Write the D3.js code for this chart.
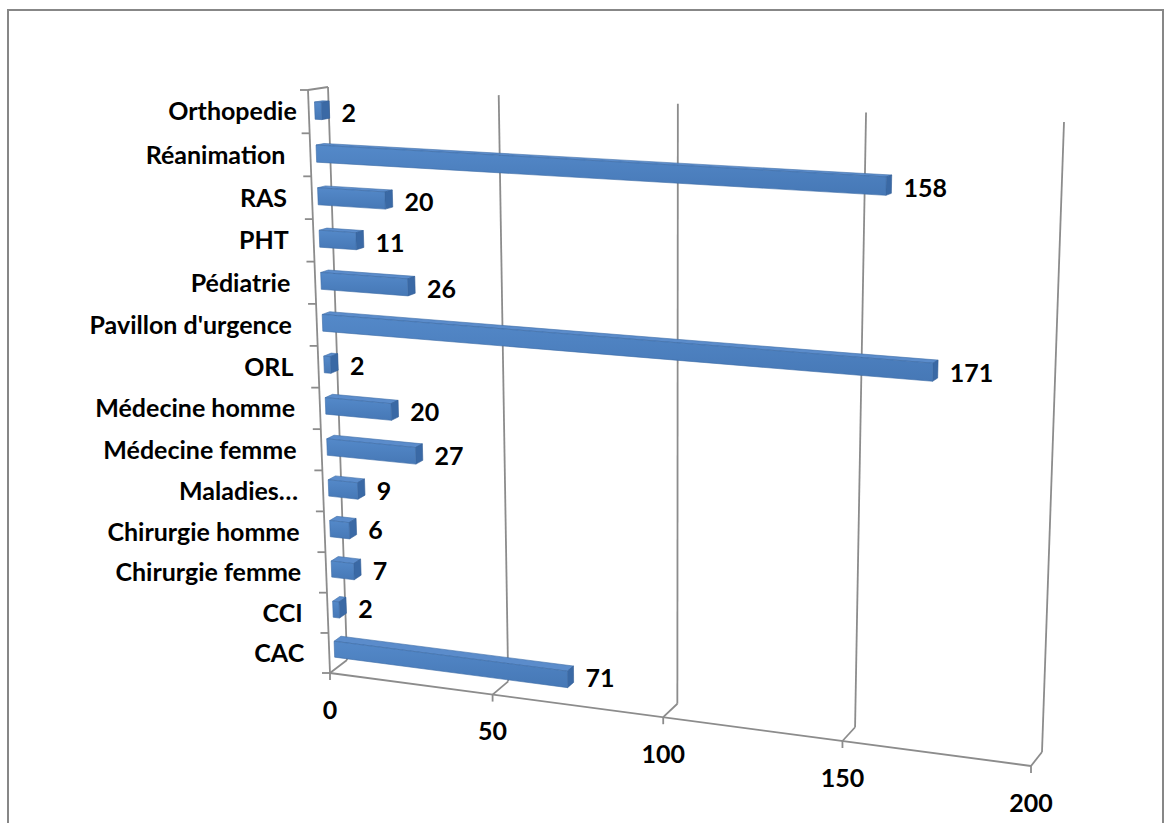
<!DOCTYPE html>
<html>
<head>
<meta charset="utf-8">
<script src="https://cdn.jsdelivr.net/npm/d3@7"></script>
<style>
  html, body { margin: 0; padding: 0; background: #fff; }
  svg { display: block; }
  text { font-family: Lato, "Open Sans", sans-serif; font-weight: 700; fill: #000; }
</style>
</head>
<body>
<svg id="chart" width="1173" height="823"></svg>
<script>
// Admissions by department
const categories = ["Orthopedie", "Réanimation", "RAS", "PHT", "Pédiatrie", "Pavillon d'urgence", "ORL",
  "Médecine homme", "Médecine femme", "Maladies…", "Chirurgie homme", "Chirurgie femme", "CCI", "CAC"];
const counts = [2, 158, 20, 11, 26, 171, 2, 20, 27, 9, 6, 7, 2, 71];
const valueTicks = [0, 50, 100, 150, 200];

const svg = d3.select("#chart");
const fontSize = 25;

// Screen corners of the front plane (z = 0) and the back wall (z = 1)
const frontPlane = { tl: [308, 90], tr: [1052, 126], bl: [330, 673], br: [1031, 766] };
const backPlane  = { tl: [328, 87], tr: [1064, 122], bl: [347, 660], br: [1042, 752] };

const x = d3.scaleLinear().domain([0, 200]).range([0, 1]);
const y = d3.scaleBand().domain(categories).range([0, 1]).paddingInner(0.6).paddingOuter(0.3);

// one-dimensional perspective foreshortening
const persp = k => t => t * k / (1 + (k - 1) * t);
const warpU = persp(0.906);
const warpW = persp(1.043);

const lerp = (a, b, t) => [a[0] + (b[0] - a[0]) * t, a[1] + (b[1] - a[1]) * t];
function onPlane(q, u, w) {
  return lerp(lerp(q.tl, q.tr, u), lerp(q.bl, q.br, u), w);
}
// value, vertical position (0 top .. 1 bottom, linear band space), depth
function project(v, w, z) {
  const u = warpU(x(v)), ww = warpW(w);
  return lerp(onPlane(frontPlane, u, ww), onPlane(backPlane, u, ww), z);
}

// outer frame
svg.append("rect")
  .attr("x", 8).attr("y", 10).attr("width", 1155).attr("height", 830)
  .attr("fill", "none").attr("stroke", "#878787").attr("stroke-width", 2);

const grid = svg.append("g")
  .attr("stroke", "#8c8c8c").attr("stroke-width", 1.8).attr("fill", "none");
const seg = (a, b) => grid.append("line")
  .attr("x1", a[0]).attr("y1", a[1]).attr("x2", b[0]).attr("y2", b[1]);

// back wall gridlines and floor depth lines
valueTicks.forEach(t => {
  seg(project(t, 0, 1), project(t, 1, 1));
  seg(project(t, 1, 0), project(t, 1, 1));
  const p = project(t, 1, 0);
  seg(p, [p[0], p[1] + 7]);
});
// side wall top edge
seg(project(0, 0, 0), project(0, 0, 1));
// category axis line and ticks
seg(project(0, 0, 0), project(0, 1, 0));
d3.range(categories.length + 1).forEach(i => {
  const p = project(0, i * y.step(), 0);
  seg(p, [p[0] - 8, p[1]]);
});
// value axis line
seg(project(0, 1, 0), project(200, 1, 0));

// bar fills
const defs = svg.append("defs");
const grad = defs.append("linearGradient").attr("id", "barFront")
  .attr("x1", 0).attr("y1", 0).attr("x2", 0).attr("y2", 1);
grad.append("stop").attr("offset", 0).attr("stop-color", "#5489c9");
grad.append("stop").attr("offset", 1).attr("stop-color", "#4678b6");

const z0 = 0.3, z1 = 0.7;
const poly = pts => pts.map(p => p.join(",")).join(" ");
const bars = svg.append("g").selectAll("g")
  .data(categories.map((c, i) => ({ c, v: counts[i] })))
  .join("g");

bars.each(function (d) {
  const g = d3.select(this);
  const w0 = y(d.c), w1 = y(d.c) + y.bandwidth();
  // top face
  g.append("polygon")
    .attr("points", poly([project(0, w0, z0), project(d.v, w0, z0), project(d.v, w0, z1), project(0, w0, z1)]))
    .attr("fill", "#5b8ccb").attr("stroke", "#3f6ea8").attr("stroke-width", 0.6);
  // end cap
  g.append("polygon")
    .attr("points", poly([project(d.v, w0, z0), project(d.v, w0, z1), project(d.v, w1, z1), project(d.v, w1, z0)]))
    .attr("fill", "#3a69a5").attr("stroke", "#315d95").attr("stroke-width", 0.6);
  // front face
  g.append("polygon")
    .attr("points", poly([project(0, w0, z0), project(d.v, w0, z0), project(d.v, w1, z0), project(0, w1, z0)]))
    .attr("fill", "url(#barFront)").attr("stroke", "#3d6ba6").attr("stroke-width", 0.6);
});

// value labels at the bar ends
bars.append("text")
  .attr("x", d => project(d.v, y(d.c) + y.bandwidth() / 2, z1)[0] + 12)
  .attr("y", d => project(d.v, y(d.c) + y.bandwidth() / 2, z1)[1] + 4)
  .attr("dy", "0.35em")
  .attr("font-size", fontSize)
  .text(d => d.v);

// category labels
svg.append("g").selectAll("text")
  .data(categories)
  .join("text")
  .attr("x", (c, i) => project(0, y(c) + y.bandwidth() / 2, 0)[0] - (i === 0 ? 12 : 25))
  .attr("y", c => project(0, y(c) + y.bandwidth() / 2, 0)[1])
  .attr("dy", "0.35em")
  .attr("text-anchor", "end")
  .attr("font-size", fontSize)
  .text(c => c);

// value axis labels
svg.append("g").selectAll("text")
  .data(valueTicks)
  .join("text")
  .attr("x", t => project(t, 1, 0)[0])
  .attr("y", t => project(t, 1, 0)[1] + 37)
  .attr("dy", "0.35em")
  .attr("text-anchor", "middle")
  .attr("font-size", fontSize)
  .text(t => t);
</script>
</body>
</html>
